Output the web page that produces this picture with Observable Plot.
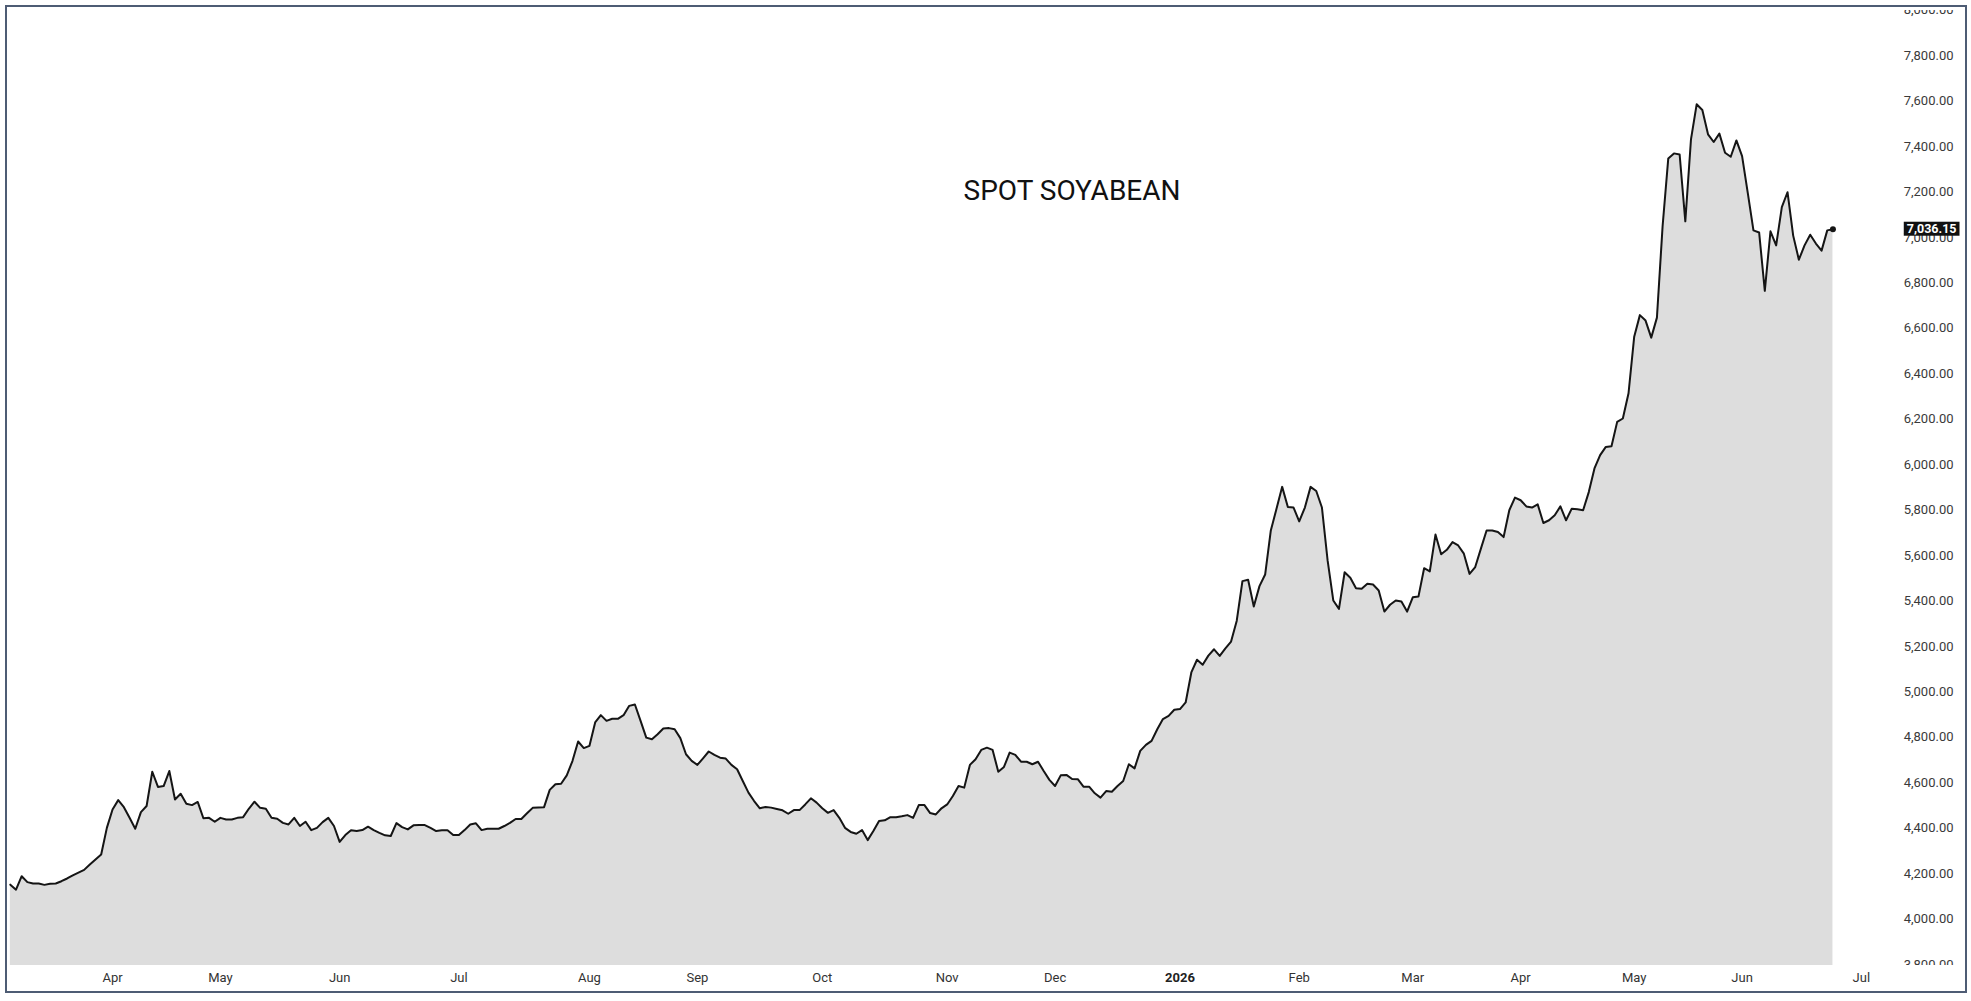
<!DOCTYPE html>
<html><head><meta charset="utf-8">
<script src="https://cdn.jsdelivr.net/npm/d3@7"></script>
<script src="https://cdn.jsdelivr.net/npm/@observablehq/plot@0.6"></script>
<style>
html,body{margin:0;padding:0;background:#fff;width:1971px;height:1001px;overflow:hidden;}
#wrap{position:relative;width:1971px;height:1001px;}
#chart{position:absolute;left:0;top:0;}
#frame{position:absolute;left:5px;top:5px;width:1958px;height:984px;border:2px solid #4e5c74;pointer-events:none;}
#title{position:absolute;left:1072px;top:177px;transform:translateX(-50%);font-family:Roboto,sans-serif;font-size:28px;line-height:28px;color:#111;white-space:nowrap;}
</style></head>
<body><div id="wrap"><div id="chart"></div><div id="title">SPOT SOYABEAN</div><div id="frame"></div></div>
<script>
// Daily spot soybean closes (one value per trading bar), Mar 2025 – Jun 2026
const prices = [
4151,4129,4188,4162,4156,4156,4150,4155,4156,4166,
4178,4192,4204,4216,4240,4262,4284,4401,4482,4523,
4492,4445,4397,4470,4497,4648,4581,4585,4651,4526,
4551,4507,4501,4515,4443,4445,4428,4445,4438,4438,
4445,4448,4485,4516,4489,4485,4445,4441,4423,4416,
4445,4409,4428,4391,4401,4426,4445,4409,4339,4369,
4390,4387,4391,4406,4391,4379,4368,4365,4422,4404,
4394,4412,4413,4413,4401,4387,4390,4390,4369,4369,
4391,4416,4421,4391,4397,4397,4397,4409,4423,4440,
4440,4465,4489,4491,4492,4568,4593,4595,4632,4695,
4781,4752,4762,4865,4897,4872,4881,4881,4897,4938,
4944,4872,4798,4791,4813,
4838,4840,4835,4796,4725,4696,4678,4707,4737,4722,
4710,4706,4678,4659,4607,4556,4519,4487,4493,4490,
4484,4478,4463,4479,4479,4504,4531,4512,4487,4467,
4479,4445,4401,4383,4375,4391,4347,4387,4431,4434,
4448,4448,4452,4457,4445,4501,4501,4466,4460,4487,
4504,4541,4585,4578,4678,4703,4744,4754,4744,4648,
4669,4732,4722,4692,4692,4681,4692,4651,4612,4585,
4632,4634,4616,4615,4582,4582,4553,4534,4563,4560,
4585,4607,4681,4663,4740,4766,4784,4835,4880,4894,
4921,4924,4953,5085,5141,5119,
5159,5187,5158,5191,5221,5313,5487,5493,5375,5465,
5516,5710,5806,5902,5813,5811,5750,5811,5902,5884,
5811,5578,5402,5365,5526,5502,5456,5453,5475,5472,
5446,5353,5383,5402,5397,5353,5416,5419,5544,5530,
5692,5605,5625,5659,5644,5608,5519,5549,5630,5710,
5710,5703,5681,5799,5855,5843,5816,5811,5825,5743,
5755,5777,5816,5755,5806,5803,5799,5879,5983,6042,
6078,6081,
6188,6203,6314,6563,6658,6634,6559,6647,7049,7348,
7370,7365,7071,7432,7586,7561,7454,7420,7457,7373,
7355,7427,7358,7196,7031,7022,6765,7027,6965,7133,
7199,7008,6902,6965,7012,6973,6942,7031,7036.15
];
// bar index where each month label sits, and the labels
const monthTickIdx = [18,37,58,79,102,121,143,165,184,206,227,247,266,286,305,326];
const monthTickLabels = ["Apr","May","Jun","Jul","Aug","Sep","Oct","Nov","Dec","2026","Feb","Mar","Apr","May","Jun","Jul"];
const yTickValues = [3800,4000,4200,4400,4600,4800,5000,5200,5400,5600,5800,6000,6200,6400,6600,6800,7000,7200,7400,7600,7800,8000];

const fmt = d3.format(",.2f");
const xTicks = monthTickIdx.map((i, k) => ({i, label: monthTickLabels[k], bold: /^\d{4}$/.test(monthTickLabels[k])}));
const lastIdx = prices.length - 1;
const lastValue = prices[lastIdx];

const chart = Plot.plot({
  width: 1971, height: 1001,
  marginTop: 10, marginBottom: 36, marginLeft: 7, marginRight: 4,
  style: {fontFamily: "Roboto, sans-serif", fontSize: "13px", background: "transparent", overflow: "visible"},
  x: {type: "linear", domain: [-0.5, 344.7], axis: null},
  y: {type: "linear", domain: [3795, 7999], axis: null},
  marks: [
    Plot.areaY(prices, {x: (d, i) => i, y: d => d, fill: "#dddddd", clip: true}),
    Plot.lineY(prices, {x: (d, i) => i, y: d => d, stroke: "#151515", strokeWidth: 2, clip: true}),
    Plot.dot([lastIdx], {x: d => d, y: d => prices[d], r: 3, fill: "#151515"}),
    Plot.text(yTickValues, {y: d => d, text: d => fmt(d), frameAnchor: "right", textAnchor: "end", dx: -14, fill: "#3a3a3a", fontSize: 13, clip: true}),
    Plot.text(xTicks.filter(t => !t.bold), {x: "i", text: "label", frameAnchor: "bottom", dy: 16, fill: "#333", fontSize: 13}),
    Plot.text(xTicks.filter(t => t.bold), {x: "i", text: "label", frameAnchor: "bottom", dy: 16, fill: "#222", fontSize: 13, fontWeight: "bold"}),
    Plot.text([lastValue], {y: d => d, text: d => fmt(d), frameAnchor: "right", textAnchor: "end", dx: -11, fill: "#ffffff", fontSize: 12.5, fontWeight: "bold"})
  ]
});
document.getElementById("chart").append(chart);

// black price tag behind the last-value label, sized from the rendered text
const lastStr = fmt(lastValue);
const t = Array.from(chart.querySelectorAll("text")).find(e => e.textContent === lastStr);
if (t) {
  const sb = chart.getBoundingClientRect(), tb = t.getBoundingClientRect();
  const r = document.createElementNS("http://www.w3.org/2000/svg", "rect");
  r.setAttribute("x", tb.left - sb.left - 3);
  r.setAttribute("y", tb.top - sb.top + 0.5);
  r.setAttribute("width", tb.width + 6);
  r.setAttribute("height", tb.height - 1);
  r.setAttribute("fill", "#111111");
  chart.append(r);
  const g = t.parentNode;
  chart.append(g === chart ? t : g);
}
</script>
</body></html>
